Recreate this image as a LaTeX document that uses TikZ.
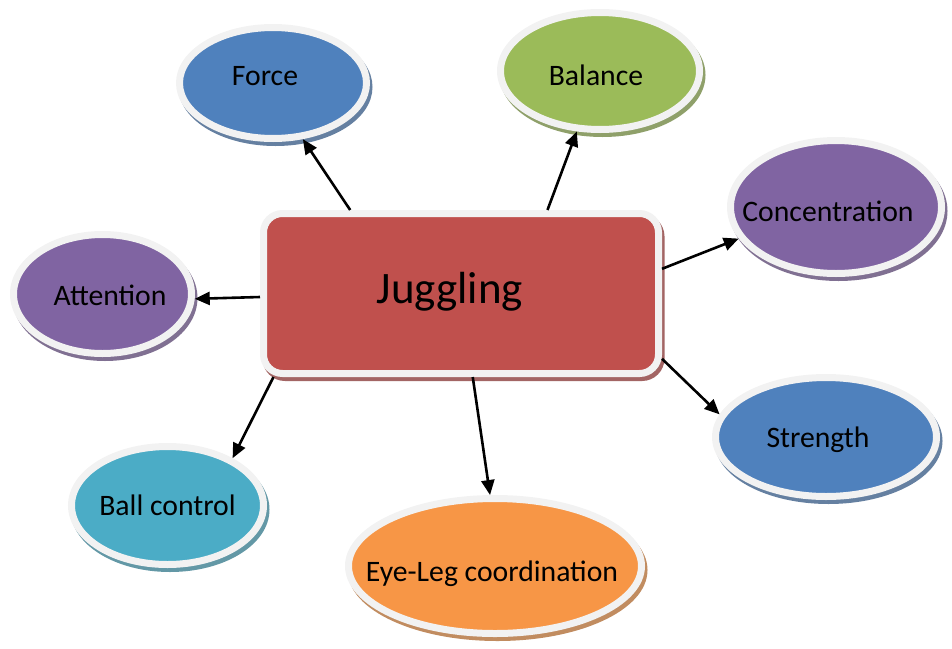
\documentclass[tikz,border=0pt]{standalone}
\usepackage{fontspec}
\setmainfont{Carlito}
\usetikzlibrary{shapes.geometric,arrows.meta}

\definecolor{rim}{HTML}{F2F2F2}
\definecolor{cblue}{HTML}{4F81BD}
\definecolor{cgreen}{HTML}{9BBB59}
\definecolor{cpurple}{HTML}{8064A2}
\definecolor{caqua}{HTML}{4BACC6}
\definecolor{corange}{HTML}{F79646}
\definecolor{cred}{HTML}{C0504D}

\tikzset{
  shade3d/.style={preaction={draw=#1!55!gray, fill=#1!55!gray,
      transform canvas={shift={(2.5pt,-4pt)}}}},
  bubble/.style={ellipse, draw=rim, line width=7pt, fill=#1, inner sep=0pt,
      outer sep=3.5pt, shade3d=#1},
  hub/.style={rectangle, rounded corners=19pt, draw=rim, line width=7pt, fill=cred,
      inner sep=0pt, outer sep=3.5pt, shade3d=cred},
  % label box height equals the cap height, so the box centre is the cap centre
  every label/.style={text=black, text height=19.1pt, text depth=0pt, inner sep=0pt,
      font=\fontsize{29.7}{36}\selectfont},
  bigtitle/.style={font=\fontsize{45}{54}\selectfont, text height=29pt},
  arr/.style={-{Triangle[length=15pt,width=13pt]}, line width=2.6pt, black},
}

\begin{document}
\begin{tikzpicture}[x=1pt, y=-1pt]
  \useasboundingbox (0,0) rectangle (952,648);

  % central topic
  \node[hub, minimum width=395pt, minimum height=160pt,
        label={[bigtitle, xshift=-11pt, yshift=4.5pt]center:Juggling}]
        (jug) at (461,293.5) {};

  % surrounding aspects
  \node[bubble=cblue, minimum width=187pt, minimum height=111pt,
        label={[xshift=-8pt, yshift=7pt]center:Force}] (force) at (273,83) {};
  \node[bubble=cgreen, minimum width=199pt, minimum height=117pt,
        label={[xshift=-4pt, yshift=-4.5pt]center:Balance}] (balance) at (600,71) {};
  \node[bubble=cpurple, minimum width=211pt, minimum height=133pt,
        label={[xshift=-8pt, yshift=-5pt]center:Concentration}] (conc) at (836,207) {};
  \node[bubble=cpurple, minimum width=178pt, minimum height=119pt,
        label={[xshift=7.5pt, yshift=-2pt]center:Attention}] (att) at (102.5,294) {};
  \node[bubble=cblue, minimum width=221pt, minimum height=119pt,
        label={[xshift=-8pt, yshift=-1pt]center:Strength}] (str) at (826,437) {};
  \node[bubble=caqua, minimum width=192pt, minimum height=118pt,
        label={[xshift=0pt, yshift=0pt]center:Ball control}] (ball) at (167.5,505.5) {};
  \node[bubble=corange, minimum width=293pt, minimum height=135pt,
        label={[xshift=-3pt, yshift=-6pt]center:Eye-Leg coordination}] (eye) at (495,566) {};

  % connectors
  \draw[arr] (jug.143)   -- (force.-62);
  \draw[arr] (jug.44.8)  -- (balance.249);
  \draw[arr] (jug.7.4)   -- (conc.198);
  \draw[arr] (jug.181)   -- (att.-3);
  \draw[arr] (jug.-18.2) -- (str.168.6);
  \draw[arr] (jug.204.3) -- (ball.36.5);
  \draw[arr] (jug.-82.5) -- (eye.94.7);
\end{tikzpicture}
\end{document}
